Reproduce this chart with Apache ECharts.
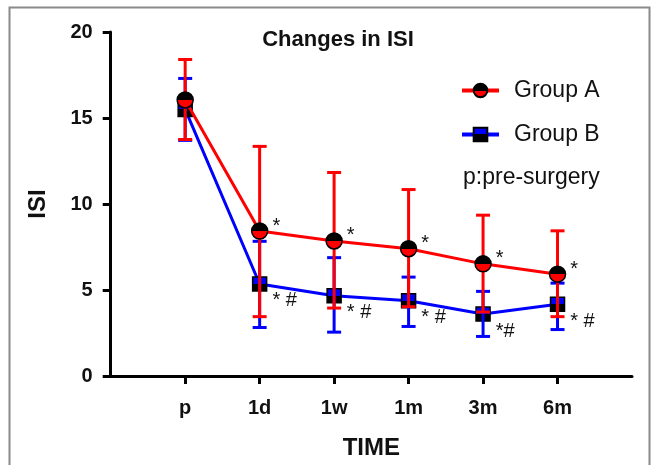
<!DOCTYPE html>
<html><head><meta charset="utf-8">
<script src="https://cdn.jsdelivr.net/npm/echarts@6/dist/echarts.min.js"></script>
<style>html,body{margin:0;padding:0;background:#fff}#c{width:654px;height:465px}</style>
</head><body><div id="c"></div>
<script>
var categories = ['p', '1d', '1w', '1m', '3m', '6m'];
var groupA = [16.05, 8.43, 7.85, 7.40, 6.52, 5.92];
var groupAHigh = [18.4, 13.35, 11.83, 10.84, 9.35, 8.44];
var groupALow = [13.75, 3.45, 3.95, 4.03, 3.72, 3.45];
var groupB = [15.5, 5.35, 4.67, 4.37, 3.60, 4.17];
var groupBHigh = [17.3, 7.83, 6.88, 5.75, 4.92, 5.40];
var groupBLow = [13.7, 2.82, 2.55, 2.88, 2.30, 2.70];
var marksA = ['', '*', '*', '*', '*', '*'];
var marksB = ['', '* #', '* #', '* #', '*#', '* #'];
var yTicks = [0, 5, 10, 15, 20];

var FONT = "'Liberation Sans', Arial, sans-serif";
var axisCats = [''].concat(categories, ['']);

function halfFill(top, bottom) {
  return {type: 'linear', x: 0, y: 0, x2: 0, y2: 1, colorStops: [
    {offset: 0, color: top}, {offset: 0.5, color: top},
    {offset: 0.5, color: bottom}, {offset: 1, color: bottom}]};
}
function pairs(vals) { return categories.map(function (c, i) { return [c, vals[i]]; }); }
function errData(lo, hi) { return categories.map(function (c, i) { return [c, lo[i], hi[i]]; }); }
function errRender(color) {
  return function (params, api) {
    var x = api.value(0);
    var lo = api.coord([x, api.value(1)]);
    var hi = api.coord([x, api.value(2)]);
    var hw = 7, st = {stroke: color, lineWidth: 3};
    return {type: 'group', children: [
      {type: 'line', shape: {x1: lo[0], y1: lo[1], x2: hi[0], y2: hi[1]}, style: st},
      {type: 'line', shape: {x1: lo[0] - hw, y1: lo[1], x2: lo[0] + hw, y2: lo[1]}, style: st},
      {type: 'line', shape: {x1: hi[0] - hw, y1: hi[1], x2: hi[0] + hw, y2: hi[1]}, style: st}
    ]};
  };
}

var chart = echarts.init(document.getElementById('c'));
chart.setOption({
  animation: false,
  backgroundColor: '#fff',
  title: {text: 'Changes in ISI', left: 333, top: 24, textAlign: 'center',
    textStyle: {fontFamily: FONT, fontSize: 22, fontWeight: 'bold', color: '#111'}},
  legend: {orient: 'vertical', left: 455, top: 74, itemWidth: 37, itemHeight: 17, itemGap: 21,
    data: ['Group A', 'Group B'],
    lineStyle: {width: 4},
    textStyle: {fontFamily: FONT, fontSize: 23, color: '#111', padding: [0, 0, 0, 10]}},
  graphic: [
    {type: 'rect', left: 7, top: 5, shape: {width: 640, height: 462}, silent: true,
      style: {fill: 'none', stroke: '#8a8a8a', lineWidth: 2}},
    {type: 'text', left: 463, top: 166, style: {text: 'p:pre-surgery', fontFamily: FONT, fontSize: 23, fill: '#111'}}
  ],
  grid: {left: 110.7, right: 22, top: 32, bottom: 83},
  xAxis: {type: 'category', data: axisCats, boundaryGap: false,
    axisLine: {lineStyle: {color: '#000', width: 3}},
    axisTick: {length: 8, lineStyle: {color: '#000', width: 3},
      interval: function (i) { return i > 0 && i < axisCats.length - 1; }},
    axisLabel: {interval: 0, margin: 22, fontFamily: FONT, fontSize: 20, fontWeight: 'bold', color: '#111'},
    name: 'TIME', nameLocation: 'middle', nameGap: 60,
    nameTextStyle: {fontFamily: FONT, fontSize: 24, fontWeight: 'bold', color: '#111'},
    splitLine: {show: false}},
  yAxis: {type: 'value', min: yTicks[0], max: yTicks[yTicks.length - 1], interval: 5,
    axisLine: {show: true, lineStyle: {color: '#000', width: 3}},
    axisTick: {show: true, length: 8, lineStyle: {color: '#000', width: 3}},
    axisLabel: {margin: 18, fontFamily: FONT, fontSize: 20, fontWeight: 'bold', color: '#111'},
    splitLine: {show: false},
    name: 'ISI', nameLocation: 'middle', nameGap: 60,
    nameTextStyle: {fontFamily: FONT, fontSize: 24, fontWeight: 'bold', color: '#111'}},
  series: [
    {name: 'Group B', type: 'line', z: 2, data: pairs(groupB), symbol: 'rect', symbolSize: 14,
      lineStyle: {color: '#0000ff', width: 3},
      itemStyle: {color: halfFill('#0000ff', '#000'), borderColor: '#000', borderWidth: 1.5},
      label: {show: true, position: 'right', offset: [0, 17], fontFamily: FONT, fontSize: 20, color: '#111',
        formatter: function (p) { return marksB[p.dataIndex]; }}},
    {name: 'errB', type: 'custom', z: 3, renderItem: errRender('#0000ff'), data: errData(groupBLow, groupBHigh),
      encode: {x: 0, y: [1, 2]}},
    {name: 'errA', type: 'custom', z: 4, renderItem: errRender('#ff0000'), data: errData(groupALow, groupAHigh),
      encode: {x: 0, y: [1, 2]}},
    {name: 'Group A', type: 'line', z: 5, data: pairs(groupA), symbol: 'circle', symbolSize: 16,
      lineStyle: {color: '#ff0000', width: 3},
      itemStyle: {color: halfFill('#000', '#ff0000'), borderColor: '#000', borderWidth: 1.5},
      label: {show: true, position: 'right', offset: [-1, -5], fontFamily: FONT, fontSize: 20, color: '#111',
        formatter: function (p) { return marksA[p.dataIndex]; }}}
  ]
});
</script></body></html>
